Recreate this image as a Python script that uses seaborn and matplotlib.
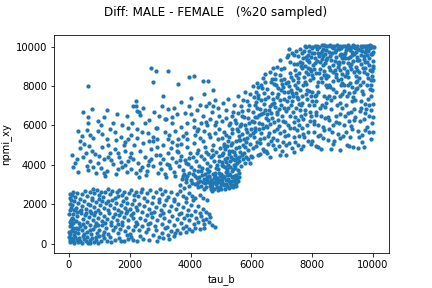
import matplotlib
matplotlib.use("Agg")
import matplotlib.pyplot as plt
import seaborn as sns
import pandas as pd

# --- DATA (tau_b vs npmi_xy) ---
# lower-left block: low tau_b, low npmi
low_pts = [
    (50, 80), (120, 150), (180, 40), (250, 200), (300, 90), (380, 160), (420, 60), (500, 250), (560, 120),
    (630, 40), (700, 180), (760, 300), (820, 90), (900, 200), (960, 60), (1050, 150), (1150, 280), (1250, 120),
    (1350, 350), (1500, 200), (1650, 300), (1800, 150), (1950, 250), (2100, 180), (80, 300), (200, 350),
    (340, 300), (450, 380), (600, 330), (150, 220), (30, 200), (680, 60), (880, 330), (1000, 380), (1700, 120),
    (2050, 350), (1400, 100),
    (40, 500), (100, 650), (160, 450), (230, 800), (290, 550), (350, 900), (420, 700), (480, 480), (540, 850),
    (600, 600), (680, 950), (740, 500), (800, 750), (870, 900), (930, 550), (1000, 700), (1080, 950), (1150, 600),
    (1230, 800), (1300, 500), (1380, 950), (1450, 700), (1530, 850), (1600, 550), (1680, 750), (1760, 950),
    (1850, 650), (1930, 850), (2000, 500), (2100, 700), (2180, 900), (60, 950), (200, 600), (310, 750),
    (460, 980), (700, 680), (950, 950), (1120, 450), (1620, 980), (1900, 450),
    (30, 1100), (90, 1300), (150, 1500), (220, 1150), (280, 1400), (340, 1050), (400, 1550), (460, 1250),
    (520, 1450), (590, 1100), (650, 1350), (720, 1550), (780, 1200), (840, 1450), (900, 1050), (970, 1300),
    (1030, 1550), (1100, 1150), (1170, 1400), (1240, 1250), (1310, 1550), (1380, 1100), (1450, 1350),
    (1520, 1500), (1590, 1200), (1660, 1450), (1740, 1100), (1810, 1350), (1880, 1550), (1950, 1200),
    (2030, 1450), (2120, 1300), (2200, 1100), (120, 1050), (250, 1600), (560, 1580), (870, 1600), (1200, 1050),
    (1700, 1600), (2100, 1550),
    (40, 1700), (100, 1950), (160, 2150), (230, 1800), (300, 2050), (360, 1650), (430, 1900), (490, 2150),
    (560, 1750), (620, 2000), (690, 1650), (750, 2200), (820, 1850), (880, 2100), (950, 1700), (1010, 1950),
    (1080, 2150), (1140, 1800), (1210, 2050), (1280, 1700), (1350, 1950), (1420, 2200), (1490, 1800),
    (1560, 2050), (1630, 1700), (1700, 1950), (1780, 2150), (1850, 1800), (1920, 2050), (2000, 1750),
    (2080, 2000), (2150, 2200), (70, 2200), (400, 1700), (700, 1950), (1300, 2150), (1900, 1650), (2200, 1850),
    (30, 2300), (110, 2450), (200, 2350), (280, 2550), (350, 2250), (440, 2500), (520, 2700), (600, 2400),
    (680, 2600), (760, 2300), (840, 2550), (910, 2750), (990, 2450), (1060, 2650), (1130, 2350), (1200, 2600),
    (1280, 2800), (1350, 2500), (1430, 2700), (1500, 2300), (1580, 2600), (1650, 2750), (1730, 2450),
    (1810, 2650), (1880, 2300), (1960, 2550), (2050, 2750), (2130, 2450), (2200, 2650), (150, 2600),
    (800, 2800), (1000, 2250), (1600, 2400),
    (10, 600), (20, 900), (60, 1200), (15, 1500), (80, 1800), (25, 2000), (50, 2500), (130, 800), (10, 350),
    (170, 1700), (90, 700), (140, 1250),
]

# lower middle: tau_b 2200-4800, npmi below ~2800
lowmid_pts = [
    (2250, 150), (2350, 400), (2450, 250), (2550, 600), (2650, 200), (2750, 450), (2850, 700), (2950, 350),
    (3050, 550), (3150, 800), (3250, 450), (3350, 650), (3450, 400), (3550, 700), (3650, 550), (3750, 800),
    (3850, 600), (3950, 750), (4050, 650), (4150, 800), (4300, 750), (4450, 800), (2300, 700), (2600, 750),
    (2900, 150), (3100, 300), (3300, 250), (3500, 550),
    (2250, 1000), (2330, 1300), (2420, 900), (2500, 1200), (2580, 1450), (2660, 1050), (2740, 1350),
    (2820, 900), (2900, 1200), (2980, 1450), (3060, 1000), (3140, 1300), (3220, 850), (3300, 1150),
    (3380, 1400), (3460, 950), (3540, 1250), (3620, 1500), (3700, 1050), (3780, 1300), (3860, 900),
    (3940, 1200), (4020, 1450), (4100, 1000), (4180, 1300), (4260, 1100), (4350, 1400), (4430, 1000),
    (4520, 1250), (4600, 1100), (4700, 950), (4800, 850), (4650, 1350), (4400, 1200), (3900, 1450), (2600, 1000),
    (2240, 1700), (2320, 2000), (2400, 1600), (2480, 1900), (2560, 2150), (2640, 1750), (2720, 2050),
    (2800, 1600), (2880, 1850), (2960, 2100), (3040, 1700), (3120, 1950), (3200, 2200), (3280, 1650),
    (3360, 1900), (3440, 2150), (3520, 1750), (3600, 2000), (3680, 1550), (3760, 1850), (3840, 2100),
    (3920, 1700), (4000, 1950), (4080, 2200), (4160, 1650), (4240, 1900), (4320, 1550), (4420, 1750),
    (4500, 1600), (4600, 1500), (3100, 1550), (2700, 1550),
    (2260, 2400), (2360, 2650), (2460, 2300), (2560, 2550), (2660, 2750), (2760, 2350), (2860, 2600),
    (2960, 2250), (3060, 2500), (3160, 2700), (3260, 2350), (3360, 2600), (3460, 2250), (3560, 2500),
    (3660, 2700), (3760, 2400), (3860, 2300), (3960, 2550), (4060, 2400), (4160, 2300), (4300, 2450),
    (4420, 2300), (4550, 2200), (3000, 2800), (2400, 2800),
]

# dense band around tau_b 3600-5600, npmi ~2700-3800
band_pts = [
    (3650, 3000), (3720, 3300), (3780, 2850), (3850, 3150), (3900, 3450), (3960, 2950), (4020, 3250),
    (4080, 3550), (4140, 3050), (4200, 3350), (4260, 2900), (4320, 3200), (4380, 3500), (4430, 2800),
    (4480, 3100), (4530, 3400), (4580, 3650), (4630, 2950), (4680, 3250), (4730, 3550), (4780, 2800),
    (4830, 3050), (4880, 3350), (4930, 3600), (4980, 2900), (5030, 3150), (5080, 3450), (5130, 2800),
    (5180, 3050), (5230, 3300), (5280, 3550), (5330, 2950), (5380, 3200), (5430, 3450), (5480, 3100),
    (5530, 3350), (5580, 3600), (4700, 2700), (4900, 2750), (5100, 3000), (5250, 2850), (5400, 3000),
    (4550, 3250), (4750, 3150), (4950, 3250), (5150, 3250), (5350, 3400), (4850, 3200), (5050, 3300),
    (4650, 3100), (4450, 3300), (4250, 3150), (4050, 3100), (3850, 3300), (5200, 3500), (5000, 3550),
    (4800, 3450), (4600, 3450), (5450, 3300), (5550, 3200),
    (4220, 3020), (4290, 3380), (4350, 2950), (4410, 3150), (4470, 3550), (4520, 2870), (4560, 3120),
    (4610, 3380), (4660, 2780), (4710, 3020), (4760, 3330), (4810, 3600), (4860, 2880), (4910, 3120),
    (4960, 3420), (5010, 2800), (5060, 3050), (5110, 3380), (5160, 3620), (5210, 2920), (5260, 3180),
    (5310, 3480), (5360, 3700), (5410, 2900), (5460, 3150), (5510, 3500), (5560, 3750), (5600, 3400),
    (4600, 3700), (4900, 3800), (5200, 3800), (5450, 3850), (4350, 3700), (4150, 3450), (3950, 3600),
    (3750, 3450), (4700, 2900), (5000, 3050), (5300, 3100), (5500, 2950),
]

# middle: tau_b 0-5000, npmi ~3300-9000 (sparse on the left)
mid_pts = [
    (450, 6670), (750, 6810), (620, 6420), (630, 6130), (960, 6210), (1250, 6760), (1160, 6420), (1580, 6590),
    (1910, 6470), (2190, 6980), (2240, 6720), (2090, 6130), (2350, 6550), (2450, 6880), (2300, 6700),
    (2100, 7000), (2220, 7230), (420, 5490), (600, 5750), (960, 5700), (1100, 5550), (1360, 5800), (1500, 5650),
    (1700, 5400), (1950, 5850), (2050, 5500), (2400, 5650), (2850, 5870), (2750, 5400), (2650, 5200),
    (800, 5350), (1250, 5300), (1850, 5150), (2250, 5350), (300, 5700), (1050, 6000), (1450, 6150),
    (1750, 6000), (2500, 6100), (1300, 5000),
    (630, 8000), (2700, 8900), (2850, 8760), (3250, 8760), (2750, 8200), (3940, 8460), (4100, 8500),
    (4400, 8250), (4570, 8250), (3600, 8100), (4730, 7800), (4430, 7600), (3110, 7490), (4000, 7390),
    (5070, 7130), (4300, 7050), (4600, 7150),
    (3180, 6350), (3380, 6420), (3250, 6830), (3150, 6320), (3810, 6620), (4000, 6570), (2910, 5860),
    (3500, 5700), (3700, 5900), (3900, 6100), (4100, 6300), (4250, 5800), (4400, 6500), (4550, 6000),
    (4700, 6700), (4850, 6200), (4950, 5800), (3300, 5500), (3600, 5300), (3850, 5600), (4150, 5500),
    (4450, 5700), (4650, 5400), (4800, 5600), (2950, 6500), (3050, 7000), (3450, 6900), (3700, 7200),
    (3950, 7000), (4200, 6800), (4500, 7000), (4800, 7300), (4900, 6900), (3400, 6100), (3550, 6600),
    (4350, 6150), (4650, 6350), (2650, 6300), (2800, 6700), (4900, 5300), (4100, 5900), (3750, 5450),
    (4600, 5550), (4300, 5350), (3150, 5650),
    (200, 4090), (360, 4850), (590, 3920), (630, 3750), (860, 4530), (150, 3900), (450, 4400), (700, 4200),
    (900, 3600), (300, 3650), (750, 4700), (500, 5050), (950, 4100), (100, 4500), (650, 4950),
    (1050, 3850), (1150, 4300), (1250, 3700), (1350, 4600), (1450, 4050), (1550, 3550), (1650, 4400),
    (1750, 3900), (1850, 4700), (1950, 4200), (1100, 4900), (1300, 4400), (1500, 4800), (1700, 4150),
    (1900, 3650), (1200, 3450), (1600, 3800), (1800, 5000),
    (2050, 3800), (2120, 4300), (2200, 3600), (2280, 4100), (2350, 4700), (2420, 3900), (2500, 4400),
    (2570, 3700), (2640, 4200), (2710, 4800), (2780, 3950), (2850, 4500), (2920, 3600), (2980, 4100),
    (2150, 5000), (2450, 5100), (2750, 5200), (2300, 3400), (2600, 4000), (2900, 4900), (2050, 4600),
    (2550, 3500),
    (3030, 3800), (3090, 4300), (3150, 3550), (3210, 4050), (3270, 4600), (3330, 3850), (3390, 4350),
    (3450, 3650), (3510, 4150), (3570, 4700), (3630, 3950), (3690, 4450), (3750, 3750), (3810, 4250),
    (3870, 4900), (3930, 4050), (3980, 4600), (3100, 5000), (3400, 5150), (3700, 5050), (3200, 3400),
    (3500, 3450), (3800, 3550), (3350, 4850), (3650, 4250), (3950, 4350),
    (4030, 3900), (4080, 4400), (4130, 3750), (4180, 4200), (4230, 4750), (4280, 3950), (4330, 4450),
    (4380, 3850), (4430, 4300), (4480, 4900), (4530, 4100), (4580, 4550), (4630, 3950), (4680, 4400),
    (4730, 5000), (4780, 4200), (4830, 4650), (4880, 4000), (4930, 4450), (4980, 4850), (4100, 5100),
    (4400, 5200), (4700, 4750), (4950, 4200), (4250, 3700), (4550, 3800), (4850, 3850),
    (250, 4300), (550, 4600), (800, 3900), (1000, 4450), (1150, 3600), (1400, 4250), (1600, 4600),
    (1850, 4000), (2000, 4400), (350, 5200), (700, 5500), (1550, 5250), (1950, 5300), (2250, 5800),
    (2600, 5600), (2900, 5300), (3300, 4000), (3600, 4650), (3850, 4100), (2350, 3750), (2700, 4300),
    (3000, 4500), (3250, 5300), (3550, 5000), (3900, 5300), (4200, 4600), (4500, 4650), (4750, 4500),
    (4200, 5700), (4500, 6200), (4800, 6000), (4950, 6500), (4750, 7000),
]

# upper-right cloud: tau_b 5000-10000, npmi ~4300-10000
high_pts = [
    (5020, 4130), (5070, 4620), (5090, 5080), (5140, 3880), (5190, 4370), (5210, 4940), (5270, 5420),
    (5290, 4180), (5350, 4710), (5370, 5830), (5420, 3990), (5470, 4520), (5490, 5230), (5040, 6240),
    (5160, 6790), (5240, 7320), (5360, 6470), (5440, 7060), (5110, 5680), (5310, 6130), (5470, 6280),
    (5200, 3690), (5390, 3810), (5030, 5340), (5330, 5010), (5120, 4290), (5230, 3980), (5450, 4230),
    (5260, 4560), (5140, 4810),
    (5530, 4370), (5580, 4930), (5600, 5480), (5660, 6090), (5680, 6720), (5740, 7280), (5760, 4610),
    (5820, 5170), (5840, 5830), (5900, 6380), (5920, 7040), (5960, 7580), (5550, 7490), (5610, 4190),
    (5710, 4990), (5790, 6030), (5890, 4770), (5940, 5520), (5640, 5270), (5760, 6410), (5860, 7230),
    (5570, 6640), (5690, 4490), (5930, 6120), (5790, 7710), (5520, 5810), (5980, 4460), (5870, 5340),
    (5620, 5960),
    (6020, 4420), (6040, 4880), (6090, 5430), (6120, 5890), (6130, 6420), (6180, 6870), (6210, 7380),
    (6220, 7930), (6270, 4570), (6280, 5130), (6330, 5620), (6340, 6080), (6390, 6630), (6420, 7090),
    (6430, 7640), (6460, 8180), (6030, 6230), (6110, 7020), (6170, 5180), (6260, 6520), (6320, 7310),
    (6410, 5370), (6470, 5980), (6070, 7990), (6160, 7680), (6210, 4480), (6370, 4830), (6450, 6790),
    (6130, 5720), (6310, 8070), (6390, 8420), (6490, 4690), (6240, 5840), (6060, 6680),
    (6510, 4620), (6560, 5080), (6590, 5630), (6600, 6070), (6650, 6620), (6680, 7090), (6690, 7630),
    (6740, 8080), (6770, 8620), (6780, 4830), (6830, 5270), (6840, 5810), (6890, 6290), (6900, 6830),
    (6950, 7270), (6960, 7820), (6990, 8330), (6540, 7420), (6610, 8690), (6710, 5380), (6770, 6930),
    (6850, 8980), (6930, 4520), (6550, 6280), (6670, 8380), (6740, 6180), (6880, 7590), (6940, 5620),
    (6620, 4380), (6810, 8030), (6970, 8870), (6500, 5920), (6720, 5020), (6860, 6570),
    (7020, 4730), (7040, 5180), (7090, 5730), (7100, 6190), (7150, 6720), (7160, 7230), (7210, 7680),
    (7220, 8230), (7270, 8680), (7280, 9210), (7330, 9680), (7340, 4880), (7390, 5420), (7400, 5880),
    (7450, 6430), (7460, 6880), (7490, 7420), (7030, 7930), (7070, 8380), (7090, 8920), (7160, 9480),
    (7200, 6030), (7280, 6470), (7320, 7020), (7380, 7480), (7440, 8030), (7470, 8580), (7130, 4520),
    (7250, 5130), (7370, 8290), (7410, 9120), (7460, 9780), (7010, 6480), (7190, 5520), (7300, 7790),
    (7410, 4630), (7080, 7320), (7240, 9870), (7360, 6660),
    (7520, 5030), (7560, 5470), (7570, 6030), (7620, 6480), (7630, 7020), (7680, 7470), (7690, 8030),
    (7740, 8480), (7750, 9030), (7800, 9480), (7810, 9980), (7860, 5230), (7870, 5680), (7920, 6230),
    (7930, 6680), (7980, 7230), (7990, 7680), (7520, 8230), (7570, 8680), (7590, 9230), (7660, 9680),
    (7700, 6330), (7780, 6770), (7820, 7330), (7900, 7770), (7940, 8330), (7970, 8770), (7550, 7320),
    (7630, 4820), (7730, 5420), (7870, 9320), (7910, 9790), (7670, 5880), (7790, 8120), (7950, 5080),
    (7590, 7780), (7710, 9420), (7860, 8630), (7760, 10050), (7980, 9980), (7540, 6300),
    (8010, 5230), (8060, 5680), (8070, 6230), (8120, 6680), (8130, 7230), (8180, 7680), (8190, 8230),
    (8240, 8680), (8250, 9230), (8300, 9680), (8310, 10060), (8360, 5380), (8370, 5930), (8420, 6380),
    (8430, 6930), (8480, 7380), (8490, 7930), (8020, 8420), (8070, 8880), (8090, 9420), (8160, 9880),
    (8200, 6020), (8280, 6480), (8320, 7030), (8380, 7480), (8440, 8030), (8470, 8580), (8050, 7020),
    (8130, 4980), (8250, 5530), (8370, 9080), (8410, 9630), (8470, 10010), (8170, 8020), (8290, 8430),
    (8090, 7480), (8400, 8780), (8240, 9530), (8140, 6520), (8350, 9880), (8060, 9700), (8440, 9330),
    (8300, 4800),
    (8510, 5280), (8560, 5830), (8570, 6280), (8620, 6830), (8630, 7280), (8680, 7830), (8690, 8280),
    (8740, 8830), (8750, 9280), (8800, 9830), (8810, 10080), (8860, 5580), (8870, 6130), (8920, 6580),
    (8930, 7130), (8980, 7580), (8990, 8130), (8520, 8530), (8570, 8980), (8590, 9530), (8660, 9980),
    (8700, 6030), (8780, 6480), (8820, 7030), (8900, 7480), (8940, 8030), (8970, 8630), (8550, 7520),
    (8630, 4830), (8730, 5230), (8870, 9130), (8910, 9580), (8950, 9930), (8670, 8730), (8790, 8480),
    (8570, 8030), (8890, 9230), (8760, 9730), (8540, 9750), (8840, 9980), (8620, 10030), (8980, 9400),
    (8900, 4750),
    (9010, 5480), (9060, 6030), (9070, 6480), (9120, 7030), (9130, 7480), (9180, 8030), (9190, 8480),
    (9240, 9030), (9250, 9480), (9300, 9980), (9310, 5830), (9360, 6280), (9370, 6830), (9420, 7280),
    (9430, 7830), (9480, 8280), (9490, 8830), (9020, 9230), (9070, 9680), (9090, 10050), (9160, 8780),
    (9200, 6230), (9280, 6680), (9320, 7230), (9380, 7680), (9440, 8230), (9470, 9330), (9050, 8030),
    (9130, 5030), (9250, 5430), (9370, 9630), (9410, 9930), (9470, 10030), (9170, 9430), (9290, 9130),
    (9080, 8530), (9390, 8730), (9240, 9830), (9340, 4930), (9210, 7630), (9140, 9950), (9330, 10060),
    (9450, 9750), (9500, 4850),
    (9510, 5730), (9560, 6230), (9570, 6730), (9620, 7230), (9630, 7730), (9680, 8230), (9690, 8730),
    (9740, 9230), (9750, 9730), (9800, 10010), (9810, 5930), (9860, 6480), (9870, 7030), (9920, 7480),
    (9930, 8030), (9980, 8530), (9990, 9030), (9520, 9330), (9570, 9830), (9590, 10050), (9660, 8930),
    (9700, 6330), (9780, 6830), (9820, 7330), (9900, 7830), (9940, 8330), (9970, 9630), (9550, 8430),
    (9630, 5530), (9730, 5780), (9870, 9430), (9910, 9930), (9950, 10030), (9690, 9530), (9790, 9230),
    (9570, 8030), (9890, 8830), (10000, 9730), (10010, 9280), (9990, 7080), (9990, 5680), (9960, 6130),
    (9700, 4900), (9640, 9980), (9840, 9760), (10020, 10000),
]

# extra points where the upper-right cloud is densest
high_dense_pts = [
    (7540, 9540), (7610, 9890), (7680, 9150), (7720, 9760), (7790, 8720), (7830, 9310), (7880, 10010),
    (7920, 8860), (7960, 9470), (8000, 9930), (8040, 9080), (8080, 10040), (8110, 8650), (8150, 9260),
    (8190, 9670), (8220, 10000), (8260, 8880), (8310, 9390), (8340, 9760), (8390, 8560), (8420, 9180),
    (8460, 9840), (8500, 9420), (8530, 10010), (8580, 8820), (8610, 9340), (8650, 9700), (8690, 9060),
    (8720, 10050), (8770, 8620), (8800, 9490), (8840, 9170), (8880, 9870), (8920, 8800), (8960, 9650),
    (9000, 10020), (9040, 8930), (9080, 9400), (9110, 9840), (9150, 8640), (9190, 9180), (9230, 10000),
    (9270, 8860), (9310, 9560), (9350, 9260), (9390, 10040), (9430, 8980), (9460, 9480), (9510, 9890),
    (9550, 8700), (9590, 9560), (9620, 9120), (9660, 10010), (9700, 9360), (9740, 8900), (9770, 9880),
    (9810, 9550), (9850, 10040), (9880, 9090), (9920, 9640), (9960, 8740), (10000, 9980), (9900, 10060),
    (9750, 10030), (9450, 10000), (9180, 10060), (8930, 10050), (8700, 9920), (8400, 10060), (8150, 10030),
    (7980, 9700), (7860, 9560), (7650, 8900), (7500, 9100), (9300, 9750), (9550, 9300), (9800, 8600),
    (10010, 8900), (9650, 9800), (9050, 9570), (8850, 8950), (8600, 10080), (8350, 9510), (8100, 9150),
    (7900, 9200),
    (6040, 5640), (6090, 6180), (6140, 7210), (6180, 6420), (6230, 7560), (6270, 5320), (6300, 6850),
    (6350, 7920), (6390, 5880), (6440, 7330), (6480, 6370), (6520, 7830), (6560, 5460), (6600, 7000),
    (6640, 8200), (6680, 6380), (6720, 7350), (6760, 5700), (6790, 8350), (6830, 6700), (6870, 7900),
    (6910, 5980), (6950, 8560), (6990, 7050), (7030, 6240), (7070, 7690), (7110, 5450), (7150, 8160),
    (7190, 6890), (7230, 7440), (7270, 5850), (7310, 8470), (7350, 7230), (7390, 6190), (7430, 8800),
    (7470, 7650), (7510, 5760), (7550, 8410), (7590, 6760), (7630, 9000), (7670, 7150), (7710, 5560),
    (7750, 8190), (7790, 7580), (7830, 6010), (7870, 8900), (7910, 7020), (7950, 6470), (7990, 8540),
    (6150, 4950), (6400, 4700), (6650, 5200), (6900, 4950), (7150, 5000), (7450, 5150), (7700, 4950),
    (6200, 8150), (6450, 8600), (6700, 8900), (6950, 9300), (7200, 9550), (7400, 9550), (6080, 7450),
    (6330, 6600), (6580, 6800), (6830, 7450), (7080, 6900), (7330, 7650), (7580, 7100), (7830, 7800),
    (6250, 6100), (6500, 6600), (6750, 7150), (7000, 8100), (7250, 8000), (7500, 7900), (7750, 6600),
    (7950, 7500),
    (5030, 4480), (5080, 3950), (5110, 4950), (5170, 4130), (5220, 5230), (5250, 4700), (5300, 3900),
    (5340, 4400), (5380, 5100), (5420, 4650), (5460, 3970), (5500, 4860), (5540, 4100), (5580, 5250),
    (5620, 4650), (5660, 3950), (5700, 5580), (5740, 4290), (5780, 4900), (5820, 4420), (5860, 5650),
    (5900, 4310), (5950, 5050), (5990, 5800), (5150, 5500), (5350, 5600), (5550, 5700), (5750, 5300),
    (5950, 4100), (5050, 4000), (5400, 4300), (5600, 4400), (5800, 4100), (5250, 6000), (5500, 6100),
    (5700, 6500), (5900, 6800), (5150, 6400), (5400, 6700), (5650, 7000),
    (8050, 6050), (8120, 7540), (8190, 5480), (8250, 6890), (8320, 8180), (8380, 5780), (8450, 7150),
    (8510, 6450), (8580, 7960), (8640, 5650), (8710, 7450), (8780, 6160), (8850, 8310), (8910, 5350),
    (8980, 6880), (9040, 7760), (9100, 5680), (9170, 6620), (9230, 8170), (9290, 5950), (9350, 7420),
    (9420, 6410), (9480, 7880), (9540, 5400), (9600, 6900), (9670, 7580), (9730, 6650), (9800, 8060),
    (9860, 5650), (9930, 6800), (9980, 7820), (9990, 6420), (10000, 8300), (8200, 4900), (8700, 5050),
    (9200, 4950), (9650, 5150), (9950, 5300), (8450, 8400), (8950, 8350), (9450, 8500), (9850, 8400),
    (8800, 7700), (9300, 7950), (9750, 7100),
]

TITLE = "Diff: MALE - FEMALE   (%20 sampled)"

all_pts = low_pts + lowmid_pts + band_pts + mid_pts + high_pts + high_dense_pts
df = pd.DataFrame(all_pts, columns=["tau_b", "npmi_xy"])

fig, ax = plt.subplots(figsize=(6, 4), dpi=72)
fig.subplots_adjust(left=0.125, right=0.9, top=0.878, bottom=0.122)

sns.scatterplot(data=df, x="tau_b", y="npmi_xy", ax=ax, s=18, linewidth=0, color="#1f77b4")

fig.suptitle(TITLE, fontsize=12)

fig.savefig("out.png", dpi=72)
